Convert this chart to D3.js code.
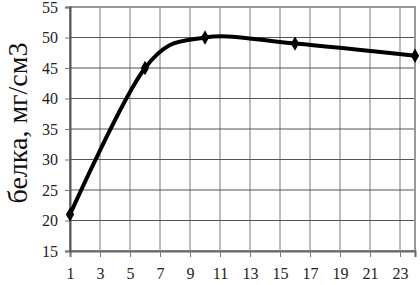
<!DOCTYPE html>
<html><head><meta charset="utf-8">
<script src="https://cdn.jsdelivr.net/npm/d3@7"></script>
<style>body{margin:0;background:#fff} text{font-family:"Liberation Serif","DejaVu Serif",serif}</style>
</head><body>
<svg id="c" width="420" height="285"></svg>
<script>
const xValues = [1, 6, 10, 16, 24];
const yValues = [21, 45, 50, 49, 47];
const xTicks = [1, 3, 5, 7, 9, 11, 13, 15, 17, 19, 21, 23];
const yTicks = [15, 20, 25, 30, 35, 40, 45, 50, 55];
const yLabel = "белка, мг/см3";

const svg = d3.select("#c");
const L = 70, R = 415, T = 7, B = 251;
const x = d3.scaleLinear().domain([1, 24]).range([L, R]);
const y = d3.scaleLinear().domain([15, 55]).range([B, T]);
const font = '"Liberation Serif","DejaVu Serif",serif';

// grid
svg.append("g").selectAll("line").data(xTicks.slice(1)).join("line")
  .attr("x1", d => x(d)).attr("x2", d => x(d)).attr("y1", T).attr("y2", B)
  .attr("stroke", "#7a7a7a").attr("stroke-width", 1);
svg.append("g").selectAll("line").data(yTicks.slice(1)).join("line")
  .attr("x1", L).attr("x2", R).attr("y1", d => y(d)).attr("y2", d => y(d))
  .attr("stroke", "#555").attr("stroke-width", 1);
// border
svg.append("rect").attr("x", L).attr("y", T).attr("width", R - L).attr("height", B - T)
  .attr("fill", "none").attr("stroke", "#999").attr("stroke-width", 2);

// axes
const xAxis = d3.axisBottom(x).tickValues(xTicks).tickSize(6).tickPadding(11).tickFormat(d3.format("d"));
const gx = svg.append("g").attr("transform", `translate(0,${B})`).call(xAxis).attr("font-family", null);
gx.select(".domain").attr("stroke", "#666").attr("stroke-width", 2);
gx.selectAll(".tick line").attr("stroke", "#777");
gx.selectAll("text").style("font-family", font).style("font-size", "16px").attr("fill", "#222");

const yAxis = d3.axisLeft(y).tickValues(yTicks).tickSize(5).tickPadding(7);
const gy = svg.append("g").attr("transform", `translate(${L},0)`).call(yAxis).attr("font-family", null);
gy.select(".domain").attr("stroke", "#555").attr("stroke-width", 2);
gy.selectAll(".tick line").attr("stroke", "#777");
gy.selectAll("text").style("font-family", font).style("font-size", "16px").attr("fill", "#222");

// label
svg.append("text").attr("transform", "translate(27,123) rotate(-90)")
  .attr("text-anchor", "middle").style("font-family", font).style("font-size", "28px")
  .attr("fill", "#111").text(yLabel);

// line
const pts = xValues.map((v, i) => [v, yValues[i]]);
svg.append("path").datum(pts)
  .attr("d", d3.line().x(d => x(d[0])).y(d => y(d[1])).curve(d3.curveCardinal.tension(0)))
  .attr("fill", "none").attr("stroke", "#000").attr("stroke-width", 4);
svg.append("g").selectAll("path").data(pts).join("path")
  .attr("d", d3.symbol(d3.symbolDiamond, 60))
  .attr("transform", d => `translate(${x(d[0])},${y(d[1])})`)
  .attr("fill", "#000");
</script>
</body></html>
